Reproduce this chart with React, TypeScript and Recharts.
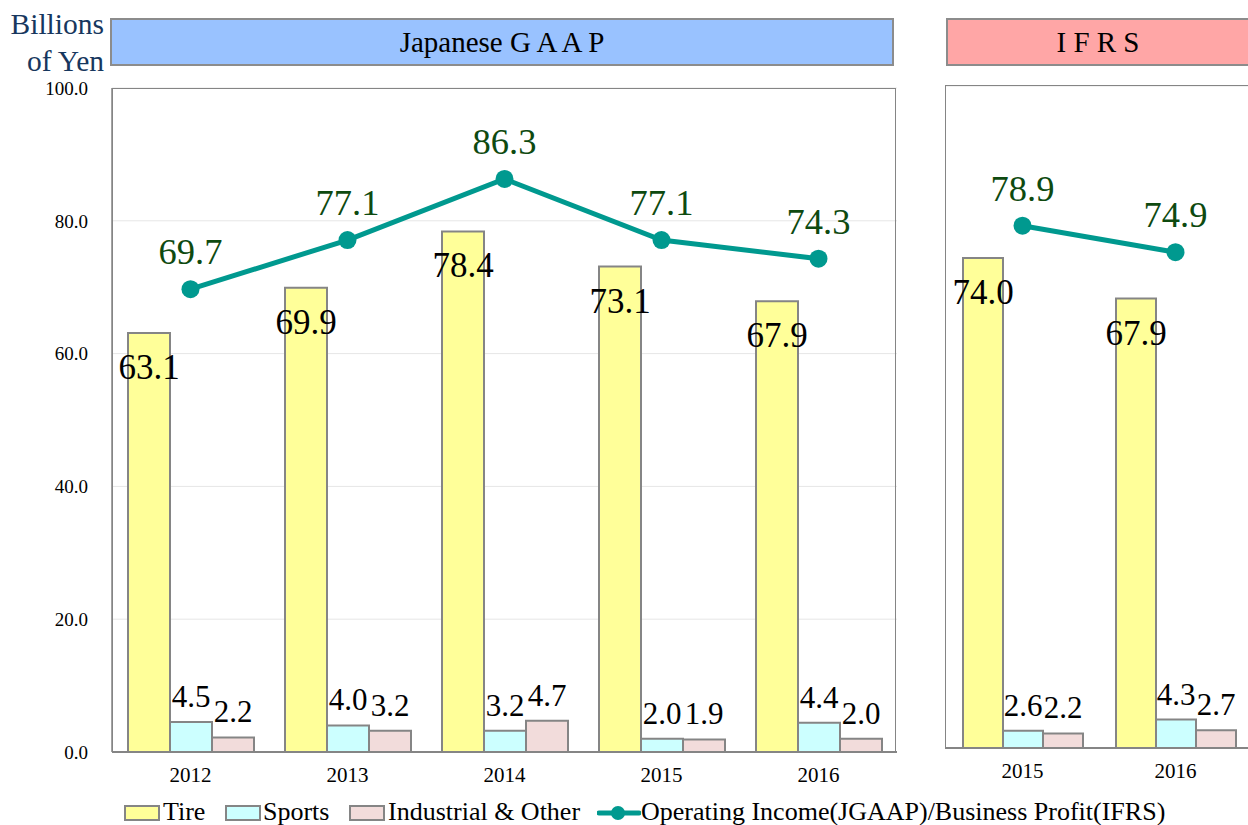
import {
  Bar,
  CartesianGrid,
  ComposedChart,
  LabelList,
  Line,
  XAxis,
  YAxis,
} from "recharts";

const SERIF = "'Liberation Serif', 'Times New Roman', serif";

// Japanese GAAP
const jgaapYears = ["2012", "2013", "2014", "2015", "2016"];
const jgaapTire = [63.1, 69.9, 78.4, 73.1, 67.9];
const jgaapSports = [4.5, 4.0, 3.2, 2.0, 4.4];
const jgaapIndustrial = [2.2, 3.2, 4.7, 1.9, 2.0];
const jgaapIncome = [69.7, 77.1, 86.3, 77.1, 74.3];

// IFRS
const ifrsYears = ["2015", "2016"];
const ifrsTire = [74.0, 67.9];
const ifrsSports = [2.6, 4.3];
const ifrsIndustrial = [2.2, 2.7];
const ifrsProfit = [78.9, 74.9];

const yTicks = [0, 20, 40, 60, 80, 100];

const jgaapData = jgaapYears.map((year, i) => ({
  year,
  tire: jgaapTire[i],
  sports: jgaapSports[i],
  industrial: jgaapIndustrial[i],
  income: jgaapIncome[i],
}));

const ifrsData = ifrsYears.map((year, i) => ({
  year,
  tire: ifrsTire[i],
  sports: ifrsSports[i],
  industrial: ifrsIndustrial[i],
  income: ifrsProfit[i],
}));

const BORDER = "#858585";
const fmt = (v: any) => Number(v).toFixed(1);

// labels drawn by hand so the serif font sticks
const insideTopLabel = (p: any) => (
  <text
    x={p.x + p.width / 2}
    y={p.y + 46}
    textAnchor="middle"
    fill="#000"
    style={{ fontFamily: SERIF, fontSize: 35 }}
  >
    {fmt(p.value)}
  </text>
);

const aboveBarLabel = (p: any) => (
  <text
    x={p.x + p.width / 2}
    y={p.y - 15}
    textAnchor="middle"
    fill="#000"
    style={{ fontFamily: SERIF, fontSize: 31 }}
  >
    {fmt(p.value)}
  </text>
);

const lineLabel = (p: any) => (
  <text
    x={p.x}
    y={p.y - 25}
    textAnchor="middle"
    fill="#0e4a10"
    style={{ fontFamily: SERIF, fontSize: 36.5 }}
  >
    {fmt(p.value)}
  </text>
);

type PanelProps = {
  data: any[];
  width: number;
  height: number;
  margin: { top: number; right: number; bottom: number; left: number };
  showYTicks: boolean;
  barSize: number;
};

function Panel({ data, width, height, margin, showYTicks, barSize }: PanelProps) {
  return (
    <ComposedChart
      width={width}
      height={height}
      data={data}
      margin={margin}
      barGap={0}
      style={{ fontFamily: SERIF }}
    >
      <CartesianGrid vertical={false} stroke="#e6e6e6" strokeWidth={1} />
      <XAxis
        dataKey="year"
        height={30}
        tickLine={false}
        tickSize={0}
        tickMargin={15}
        axisLine={{ stroke: BORDER, strokeWidth: 2 }}
        tick={{ fill: "#000", fontSize: 21, fontFamily: SERIF }}
      />
      <YAxis
        domain={[0, 100]}
        ticks={yTicks}
        width={showYTicks ? 112 : 0}
        tick={showYTicks ? { fill: "#000", fontSize: 19, fontFamily: SERIF } : false}
        tickFormatter={fmt}
        tickLine={false}
        tickSize={0}
        tickMargin={24}
        axisLine={{ stroke: BORDER, strokeWidth: 1.5 }}
      />
      <Bar
        dataKey="tire"
        barSize={barSize}
        fill="#ffff99"
        stroke={BORDER}
        strokeWidth={2}
        isAnimationActive={false}
      >
        <LabelList dataKey="tire" content={insideTopLabel} />
      </Bar>
      <Bar
        dataKey="sports"
        barSize={barSize}
        fill="#ccffff"
        stroke={BORDER}
        strokeWidth={2}
        isAnimationActive={false}
      >
        <LabelList dataKey="sports" content={aboveBarLabel} />
      </Bar>
      <Bar
        dataKey="industrial"
        barSize={barSize}
        fill="#f2dcdb"
        stroke={BORDER}
        strokeWidth={2}
        isAnimationActive={false}
      >
        <LabelList dataKey="industrial" content={aboveBarLabel} />
      </Bar>
      <Line
        dataKey="income"
        stroke="#00998f"
        strokeWidth={5}
        dot={{ r: 9, fill: "#00998f", stroke: "none" }}
        isAnimationActive={false}
      >
        <LabelList dataKey="income" content={lineLabel} />
      </Line>
    </ComposedChart>
  );
}

function Frame({ left, top, width, height }: { left: number; top: number; width: number; height: number }) {
  return (
    <div
      style={{
        position: "absolute",
        left,
        top,
        width,
        height,
        boxSizing: "border-box",
        border: `1.5px solid ${BORDER}`,
        pointerEvents: "none",
      }}
    />
  );
}

function LegendBox({ left, fill }: { left: number; fill: string }) {
  return (
    <div
      style={{
        position: "absolute",
        left,
        top: 805,
        width: 36,
        height: 16,
        boxSizing: "border-box",
        background: fill,
        border: `2.5px solid ${BORDER}`,
      }}
    />
  );
}

function LegendText({ left, text }: { left: number; text: string }) {
  return (
    <div
      style={{
        position: "absolute",
        left,
        top: 799,
        fontSize: 26,
        lineHeight: "26px",
        whiteSpace: "nowrap",
        color: "#000",
      }}
    >
      {text}
    </div>
  );
}

export default function App() {
  return (
    <div
      style={{
        position: "fixed",
        left: 0,
        top: 0,
        width: 1248,
        height: 825,
        overflow: "hidden",
        background: "#fff",
        fontFamily: SERIF,
      }}
    >
      <div
        style={{
          position: "absolute",
          right: 1248 - 104,
          top: 6,
          textAlign: "right",
          color: "#17375e",
          fontSize: 29.5,
          lineHeight: "37px",
          whiteSpace: "nowrap",
        }}
      >
        Billions
        <br />
        of Yen
      </div>
      <div
        style={{
          position: "absolute",
          left: 110,
          top: 18,
          width: 784,
          height: 48,
          boxSizing: "border-box",
          background: "#99c2ff",
          border: "2px solid #8c8c8c",
          display: "flex",
          alignItems: "center",
          justifyContent: "center",
          fontSize: 29,
          color: "#000",
        }}
      >
        Japanese G A A P
      </div>
      <div
        style={{
          position: "absolute",
          left: 946,
          top: 18,
          width: 304,
          height: 48,
          boxSizing: "border-box",
          background: "#ffa6a6",
          border: "2px solid #8c8c8c",
          display: "flex",
          alignItems: "center",
          justifyContent: "center",
          fontSize: 29,
          color: "#000",
        }}
      >
        I F R S
      </div>

      <div style={{ position: "absolute", left: 0, top: 0 }}>
        <Panel
          data={jgaapData}
          width={900}
          height={790}
          margin={{ top: 88, right: 3, bottom: 8, left: 0 }}
          showYTicks={true}
          barSize={42}
        />
      </div>
      <Frame left={112} top={88} width={784} height={665} />
      <div style={{ position: "absolute", left: 900, top: 0 }}>
        <Panel
          data={ifrsData}
          width={360}
          height={786}
          margin={{ top: 86, right: 8, bottom: 8, left: 46 }}
          showYTicks={false}
          barSize={40}
        />
      </div>
      <Frame left={945} top={85} width={320} height={664} />

      <LegendBox left={124} fill="#ffff99" />
      <LegendText left={163} text="Tire" />
      <LegendBox left={225} fill="#ccffff" />
      <LegendText left={263} text="Sports" />
      <LegendBox left={349} fill="#f2dcdb" />
      <LegendText left={388} text="Industrial & Other" />
      <svg
        style={{ position: "absolute", left: 597, top: 803 }}
        width={44}
        height={20}
      >
        <line x1={2} y1={10} x2={42} y2={10} stroke="#00998f" strokeWidth={5} strokeLinecap="round" />
        <circle cx={21} cy={10} r={7} fill="#00998f" />
      </svg>
      <LegendText left={641} text="Operating Income(JGAAP)/Business Profit(IFRS)" />
    </div>
  );
}
